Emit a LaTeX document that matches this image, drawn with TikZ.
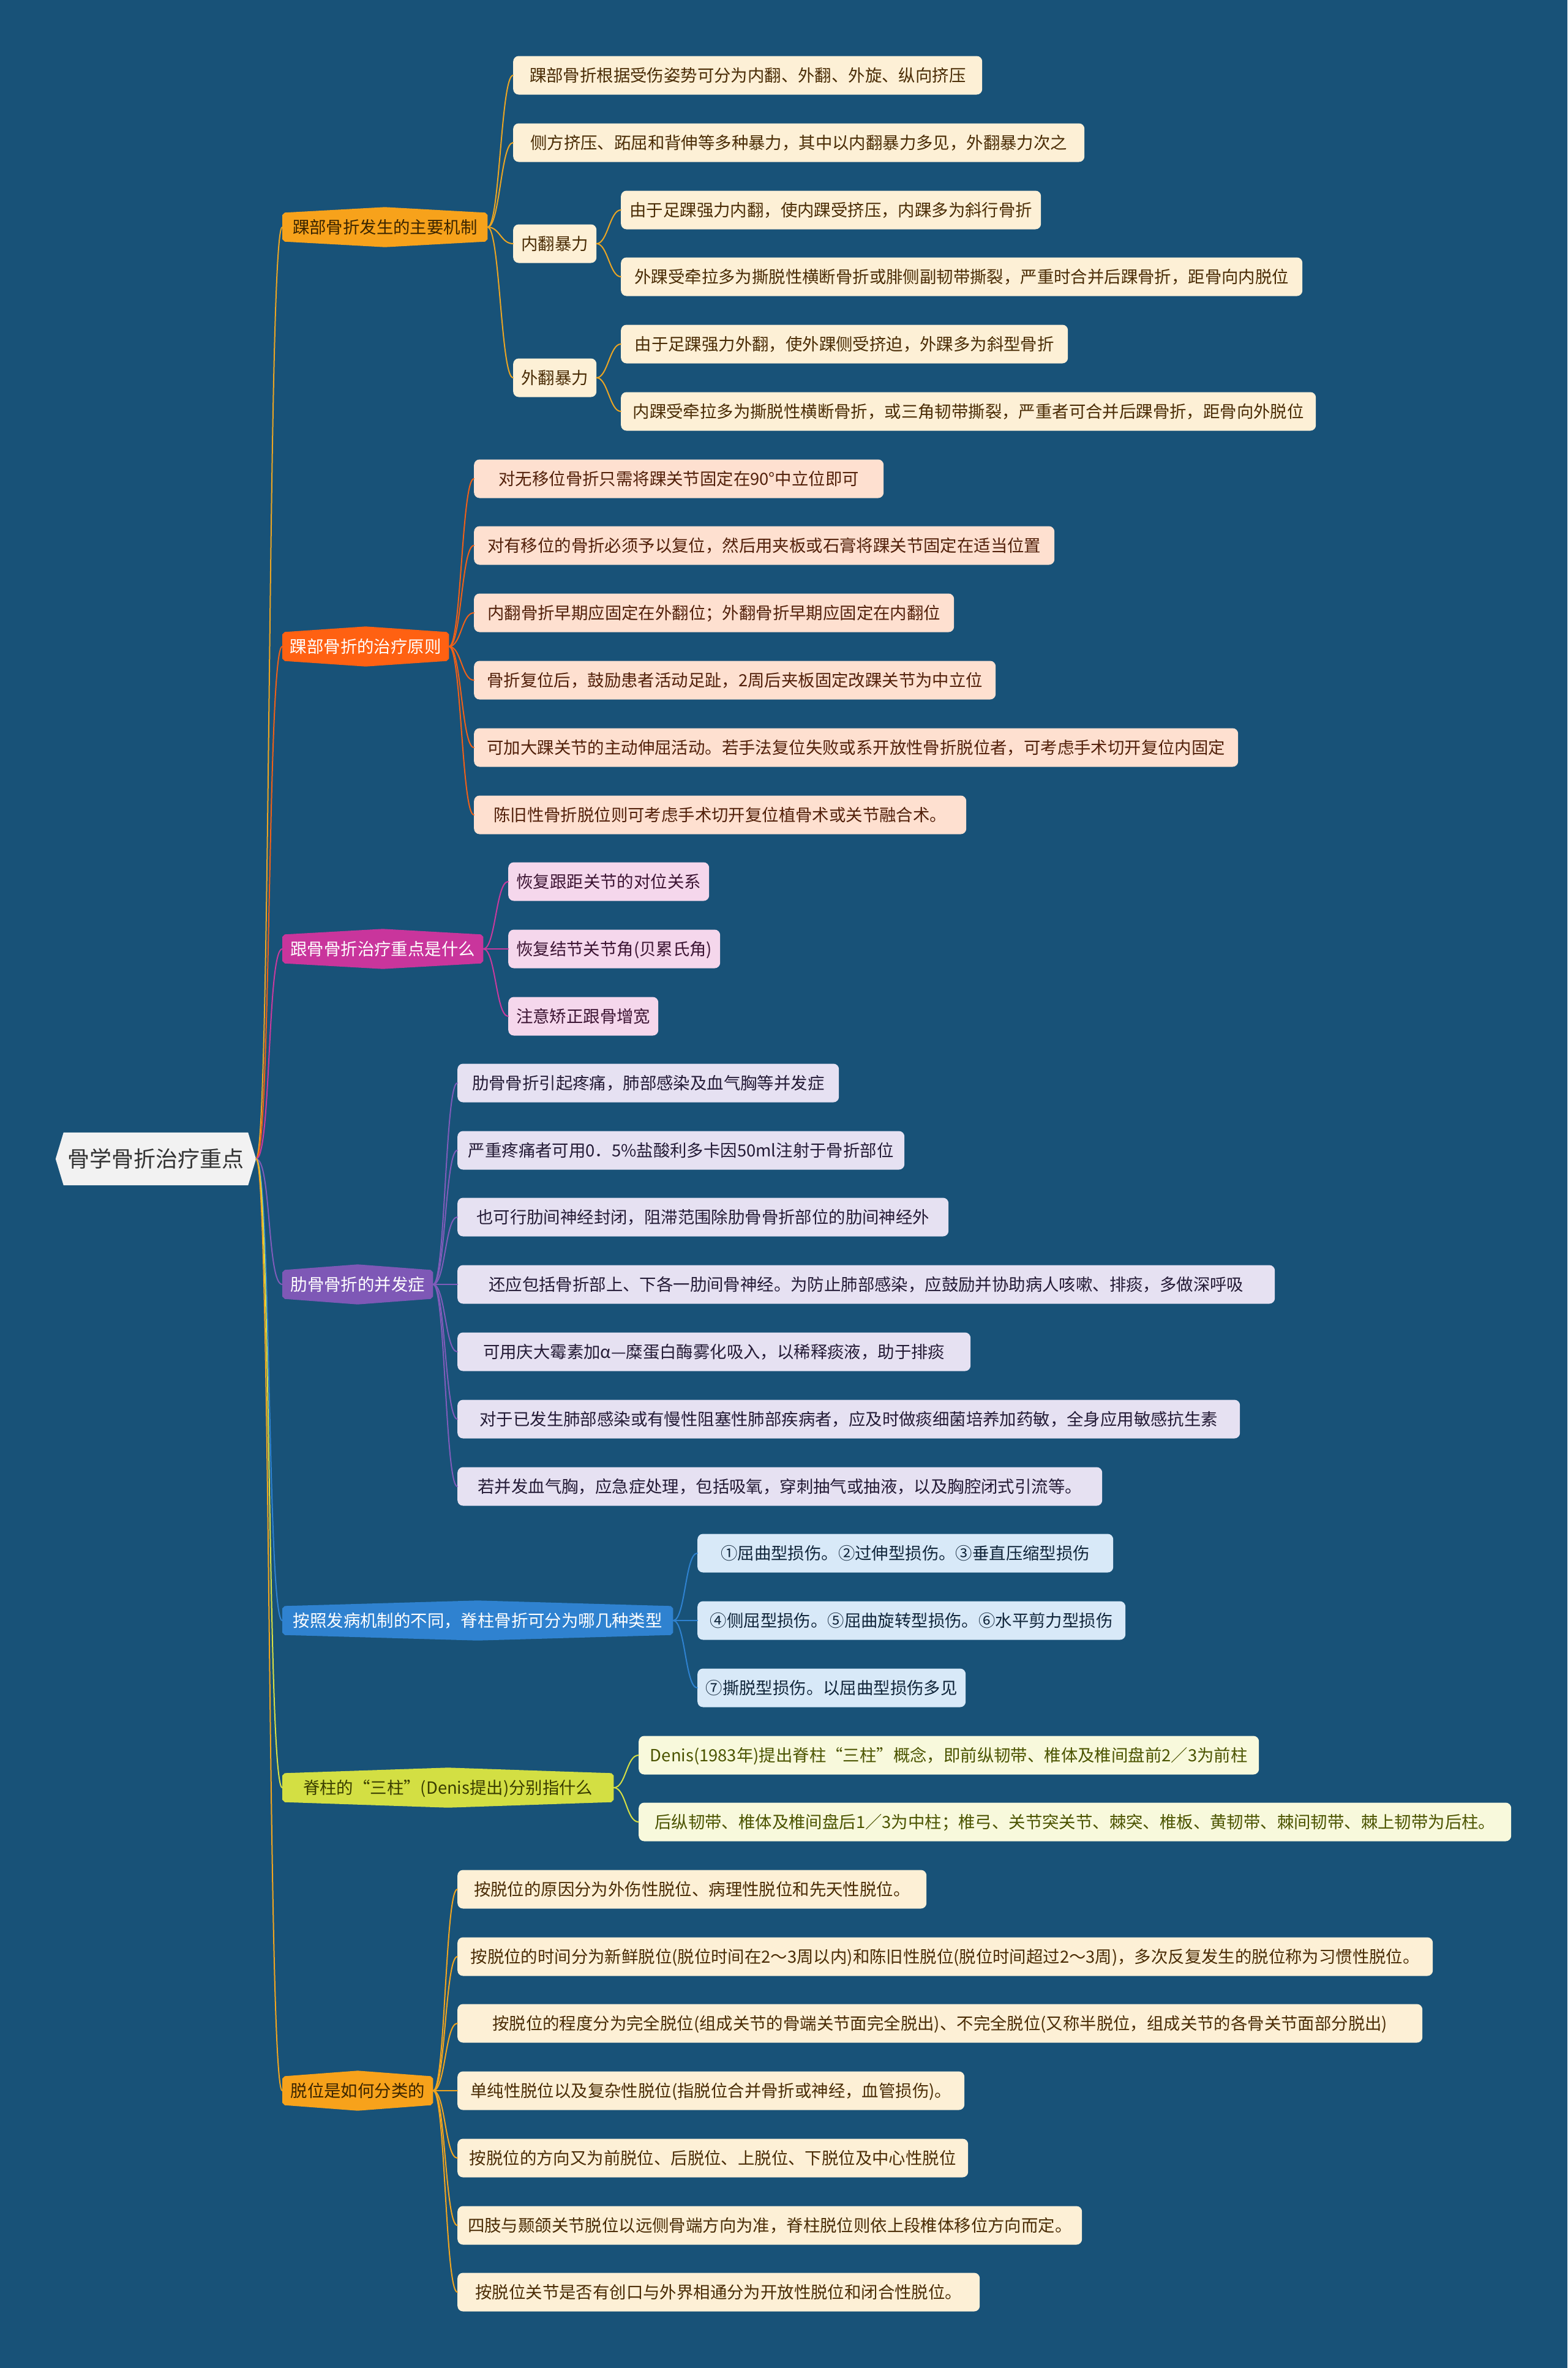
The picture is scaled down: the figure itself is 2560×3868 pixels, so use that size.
\documentclass[tikz,border=0pt]{standalone}
\usepackage{fontspec}
\setmainfont{Noto Sans CJK SC}
\usetikzlibrary{calc}
\definecolor{bgc}{RGB}{24,82,120}
\definecolor{rootfill}{HTML}{F2F2F2}
\definecolor{roottext}{HTML}{333333}
\definecolor{cA}{HTML}{F7A21B}
\definecolor{cAtext}{HTML}{3B2500}
\definecolor{cB}{HTML}{FF6112}
\definecolor{cC}{HTML}{C9359C}
\definecolor{cD}{HTML}{7E58B6}
\definecolor{cE}{HTML}{2F82D0}
\definecolor{cF}{HTML}{D3DF43}
\definecolor{cFtext}{HTML}{3A3D00}
\definecolor{cG}{HTML}{F7A21B}
\definecolor{lA}{HTML}{EBA523}
\definecolor{lB}{HTML}{F06018}
\definecolor{lC}{HTML}{C93A9E}
\definecolor{lD}{HTML}{7F5CBA}
\definecolor{lE}{HTML}{2F82D0}
\definecolor{lF}{HTML}{D8E043}
\definecolor{lG}{HTML}{F2A51F}
\definecolor{gAf}{HTML}{FDF0D6}
\definecolor{gAt}{HTML}{4A2C05}
\definecolor{gBf}{HTML}{FEE0D0}
\definecolor{gBt}{HTML}{52200A}
\definecolor{gCf}{HTML}{F5D7EC}
\definecolor{gCt}{HTML}{3C1433}
\definecolor{gDf}{HTML}{E6E1F2}
\definecolor{gDt}{HTML}{241B36}
\definecolor{gEf}{HTML}{D8E9F8}
\definecolor{gEt}{HTML}{10253A}
\definecolor{gFf}{HTML}{F8F9DC}
\definecolor{gFt}{HTML}{4B5400}
\definecolor{gGf}{HTML}{FDF0D6}
\definecolor{gGt}{HTML}{4A2C05}
\pgfdeclarelayer{back}
\pgfsetlayers{back,main}
\newcommand\mmhex[2]{%
\begin{pgfonlayer}{back}
\fill[#2] ([xshift=4]#1.north west) -- ([yshift=9]#1.north) -- ([xshift=-4]#1.north east) -- ([yshift=-4]#1.north east) -- ([yshift=4]#1.south east) -- ([xshift=-4]#1.south east) -- ([yshift=-9]#1.south) -- ([xshift=4]#1.south west) -- ([yshift=4]#1.south west) -- ([yshift=-4]#1.north west) -- cycle;
\end{pgfonlayer}}
\tikzset{
  txt/.style={font=\fontsize{27.4}{33}\selectfont, text height=24.1, text depth=3.3},
  leaf/.style={txt, anchor=west, rounded corners=9, minimum height=63, inner sep=0},
  lone/.style={txt, anchor=west, minimum height=47, inner sep=0},
  lfA/.style={leaf, fill=gAf, text=gAt},
  lfB/.style={leaf, fill=gBf, text=gBt},
  lfC/.style={leaf, fill=gCf, text=gCt},
  lfD/.style={leaf, fill=gDf, text=gDt},
  lfE/.style={leaf, fill=gEf, text=gEt},
  lfF/.style={leaf, fill=gFf, text=gFt},
  lfG/.style={leaf, fill=gGf, text=gGt},
  con/.style={line width=2, line cap=round},
  lkA/.style={con, draw=lA}, lkB/.style={con, draw=lB}, lkC/.style={con, draw=lC},
  lkD/.style={con, draw=lD}, lkE/.style={con, draw=lE}, lkF/.style={con, draw=lF},
  lkG/.style={con, draw=lG},
}
\begin{document}
\begin{tikzpicture}[x=1pt,y=-1pt]
\begin{pgfonlayer}{back}
\fill[bgc] (0,0) rectangle (2560,3868);
\end{pgfonlayer}
\useasboundingbox (0,0) rectangle (2560,3868);

% root
\node[minimum width=327, minimum height=86, inner sep=0, font=\fontsize{36}{42}\selectfont, text height=31.7, text depth=4.3, text=roottext] (root) at (254.5,1893) {骨学骨折治疗重点};
\begin{pgfonlayer}{back}
\fill[rootfill] (root.west) -- ([xshift=13]root.north west) -- ([xshift=-13]root.north east) -- (root.east) -- ([xshift=-13]root.south east) -- ([xshift=13]root.south west) -- cycle;
\end{pgfonlayer}

% level 1
\node[lone, minimum width=335, text=cAtext] (m1) at (461,371) {踝部骨折发生的主要机制};
\node[lone, minimum width=272, text=white] (m2) at (461,1056) {踝部骨折的治疗原则};
\node[lone, minimum width=328, text=white] (m3) at (461,1550) {跟骨骨折治疗重点是什么};
\node[lone, minimum width=246, text=white] (m4) at (461,2098) {肋骨骨折的并发症};
\node[lone, minimum width=638, text=white] (m5) at (461,2647) {按照发病机制的不同，脊柱骨折可分为哪几种类型};
\node[lone, minimum width=541, text=cFtext] (m6) at (461,2920) {脊柱的“三柱”(Denis提出)分别指什么};
\node[lone, minimum width=246, text=cAtext] (m7) at (461,3415) {脱位是如何分类的};
\mmhex{m1}{cA}\mmhex{m2}{cB}\mmhex{m3}{cC}\mmhex{m4}{cD}\mmhex{m5}{cE}\mmhex{m6}{cF}\mmhex{m7}{cG}

% group A
\node[lfA, minimum width=766] (a1) at (838,123) {踝部骨折根据受伤姿势可分为内翻、外翻、外旋、纵向挤压};
\node[lfA, minimum width=933] (a2) at (838,233) {侧方挤压、跖屈和背伸等多种暴力，其中以内翻暴力多见，外翻暴力次之};
\node[lfA, minimum width=136] (a3) at (838,398) {内翻暴力};
\node[lfA, minimum width=686] (a3a) at (1014,343) {由于足踝强力内翻，使内踝受挤压，内踝多为斜行骨折};
\node[lfA, minimum width=1113] (a3b) at (1014,452) {外踝受牵拉多为撕脱性横断骨折或腓侧副韧带撕裂，严重时合并后踝骨折，距骨向内脱位};
\node[lfA, minimum width=136] (a4) at (838,617) {外翻暴力};
\node[lfA, minimum width=730] (a4a) at (1014,562) {由于足踝强力外翻，使外踝侧受挤迫，外踝多为斜型骨折};
\node[lfA, minimum width=1135] (a4b) at (1014,672) {内踝受牵拉多为撕脱性横断骨折，或三角韧带撕裂，严重者可合并后踝骨折，距骨向外脱位};

% group B
\node[lfB, minimum width=669] (b1) at (774,782) {对无移位骨折只需将踝关节固定在90°中立位即可};
\node[lfB, minimum width=948] (b2) at (774,891) {对有移位的骨折必须予以复位，然后用夹板或石膏将踝关节固定在适当位置};
\node[lfB, minimum width=784] (b3) at (774,1001) {内翻骨折早期应固定在外翻位；外翻骨折早期应固定在内翻位};
\node[lfB, minimum width=852] (b4) at (774,1111) {骨折复位后，鼓励患者活动足趾，2周后夹板固定改踝关节为中立位};
\node[lfB, minimum width=1248] (b5) at (774,1221) {可加大踝关节的主动伸屈活动。若手法复位失败或系开放性骨折脱位者，可考虑手术切开复位内固定};
\node[lfB, minimum width=804] (b6) at (774,1331) {陈旧性骨折脱位则可考虑手术切开复位植骨术或关节融合术。};

% group C
\node[lfC, minimum width=328] (c1) at (830,1440) {恢复跟距关节的对位关系};
\node[lfC, minimum width=346] (c2) at (830,1550) {恢复结节关节角(贝累氏角)};
\node[lfC, minimum width=245] (c3) at (830,1660) {注意矫正跟骨增宽};

% group D
\node[lfD, minimum width=623] (d1) at (747,1769) {肋骨骨折引起疼痛，肺部感染及血气胸等并发症};
\node[lfD, minimum width=730] (d2) at (747,1879) {严重疼痛者可用0．5\%盐酸利多卡因50ml注射于骨折部位};
\node[lfD, minimum width=802] (d3) at (747,1988) {也可行肋间神经封闭，阻滞范围除肋骨骨折部位的肋间神经外};
\node[lfD, minimum width=1335] (d4) at (747,2098) {还应包括骨折部上、下各一肋间骨神经。为防止肺部感染，应鼓励并协助病人咳嗽、排痰，多做深呼吸};
\node[lfD, minimum width=838] (d5) at (747,2208) {可用庆大霉素加α—糜蛋白酶雾化吸入，以稀释痰液，助于排痰};
\node[lfD, minimum width=1278] (d6) at (747,2318) {对于已发生肺部感染或有慢性阻塞性肺部疾病者，应及时做痰细菌培养加药敏，全身应用敏感抗生素};
\node[lfD, minimum width=1053] (d7) at (747,2428) {若并发血气胸，应急症处理，包括吸氧，穿刺抽气或抽液，以及胸腔闭式引流等。};

% group E
\node[lfE, minimum width=679] (e1) at (1139,2537) {①屈曲型损伤。②过伸型损伤。③垂直压缩型损伤};
\node[lfE, minimum width=699] (e2) at (1139,2647) {④侧屈型损伤。⑤屈曲旋转型损伤。⑥水平剪力型损伤};
\node[lfE, minimum width=438] (e3) at (1139,2757) {⑦撕脱型损伤。以屈曲型损伤多见};

% group F
\node[lfF, minimum width=1013] (f1) at (1043,2867) {Denis(1983年)提出脊柱“三柱”概念，即前纵韧带、椎体及椎间盘前2／3为前柱};
\node[lfF, minimum width=1425] (f2) at (1043,2976) {后纵韧带、椎体及椎间盘后1／3为中柱；椎弓、关节突关节、棘突、椎板、黄韧带、棘间韧带、棘上韧带为后柱。};

% group G
\node[lfG, minimum width=766] (g1) at (747,3086) {按脱位的原因分为外伤性脱位、病理性脱位和先天性脱位。};
\node[lfG, minimum width=1593] (g2) at (747,3196) {按脱位的时间分为新鲜脱位(脱位时间在2～3周以内)和陈旧性脱位(脱位时间超过2～3周)，多次反复发生的脱位称为习惯性脱位。};
\node[lfG, minimum width=1576] (g3) at (747,3305) {按脱位的程度分为完全脱位(组成关节的骨端关节面完全脱出)、不完全脱位(又称半脱位，组成关节的各骨关节面部分脱出)};
\node[lfG, minimum width=828] (g4) at (747,3415) {单纯性脱位以及复杂性脱位(指脱位合并骨折或神经，血管损伤)。};
\node[lfG, minimum width=834] (g5) at (747,3525) {按脱位的方向又为前脱位、后脱位、上脱位、下脱位及中心性脱位};
\node[lfG, minimum width=1020] (g6) at (747,3635) {四肢与颞颌关节脱位以远侧骨端方向为准，脊柱脱位则依上段椎体移位方向而定。};
\node[lfG, minimum width=853] (g7) at (747,3744) {按脱位关节是否有创口与外界相通分为开放性脱位和闭合性脱位。};

% connectors root -> level 1
\draw[lkA] (root.east) .. controls +(25,0) and +(-25,0) .. (m1.west);
\draw[lkB] (root.east) .. controls +(25,0) and +(-25,0) .. (m2.west);
\draw[lkC] (root.east) .. controls +(25,0) and +(-25,0) .. (m3.west);
\draw[lkD] (root.east) .. controls +(25,0) and +(-25,0) .. (m4.west);
\draw[lkE] (root.east) .. controls +(25,0) and +(-25,0) .. (m5.west);
\draw[lkF] (root.east) .. controls +(25,0) and +(-25,0) .. (m6.west);
\draw[lkG] (root.east) .. controls +(25,0) and +(-25,0) .. (m7.west);

% connectors level 1 -> leaves
\foreach \c in {a1,a2,a3,a4} \draw[lkA] (m1.east) .. controls +(20,0) and +(-20,0) .. (\c.west);
\foreach \c in {a3a,a3b} \draw[lkA] (a3.east) .. controls +(18,0) and +(-18,0) .. (\c.west);
\foreach \c in {a4a,a4b} \draw[lkA] (a4.east) .. controls +(18,0) and +(-18,0) .. (\c.west);
\foreach \c in {b1,b2,b3,b4,b5,b6} \draw[lkB] (m2.east) .. controls +(20,0) and +(-20,0) .. (\c.west);
\foreach \c in {c1,c2,c3} \draw[lkC] (m3.east) .. controls +(20,0) and +(-20,0) .. (\c.west);
\foreach \c in {d1,d2,d3,d4,d5,d6,d7} \draw[lkD] (m4.east) .. controls +(20,0) and +(-20,0) .. (\c.west);
\foreach \c in {e1,e2,e3} \draw[lkE] (m5.east) .. controls +(20,0) and +(-20,0) .. (\c.west);
\foreach \c in {f1,f2} \draw[lkF] (m6.east) .. controls +(20,0) and +(-20,0) .. (\c.west);
\foreach \c in {g1,g2,g3,g4,g5,g6,g7} \draw[lkG] (m7.east) .. controls +(20,0) and +(-20,0) .. (\c.west);
\end{tikzpicture}
\end{document}
